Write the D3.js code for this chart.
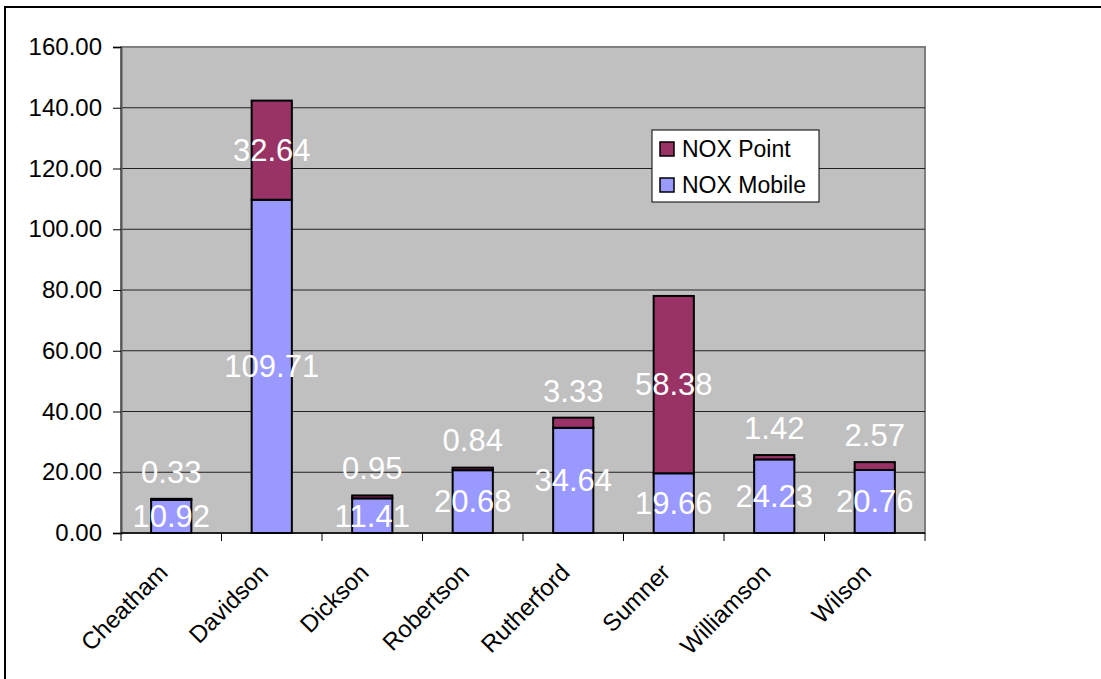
<!DOCTYPE html>
<html>
<head>
<meta charset="utf-8">
<script src="https://cdn.jsdelivr.net/npm/d3@7"></script>
<style>
  body { margin: 0; background: #fff; }
  svg { display: block; font-family: Arial, "Liberation Sans", sans-serif; }
</style>
</head>
<body>
<div class="canva"></div>
<script>
// data
const counties = ['Cheatham', 'Davidson', 'Dickson', 'Robertson', 'Rutherford', 'Sumner', 'Williamson', 'Wilson'];
const noxMobile = [10.92, 109.71, 11.41, 20.68, 34.64, 19.66, 24.23, 20.76];
const noxPoint = [0.33, 32.64, 0.95, 0.84, 3.33, 58.38, 1.42, 2.57];
const yTicks = [0, 20, 40, 60, 80, 100, 120, 140, 160];
const seriesNames = ['NOX Point', 'NOX Mobile'];
const seriesColors = ['#993366', '#9999ff'];

const W = 1101, H = 679;
const plot = { left: 121, top: 47, right: 925, bottom: 533 };

const svg = d3.select('.canva').append('svg')
  .attr('width', W)
  .attr('height', H);

// outer chart border (runs off the right / bottom of the picture)
svg.append('rect')
  .attr('x', 5).attr('y', 7)
  .attr('width', 1300).attr('height', 900)
  .attr('fill', '#fff')
  .attr('stroke', '#000')
  .attr('stroke-width', 2);

const x = d3.scaleBand()
  .domain(counties)
  .range([plot.left, plot.right])
  .padding(0);

const y = d3.scaleLinear()
  .domain([0, 160])
  .range([plot.bottom, plot.top]);

const barW = x.bandwidth() / 2.5;

// plot area
svg.append('rect')
  .attr('x', plot.left).attr('y', plot.top)
  .attr('width', plot.right - plot.left)
  .attr('height', plot.bottom - plot.top)
  .attr('fill', '#c0c0c0')
  .attr('stroke', '#808080')
  .attr('stroke-width', 2);

// gridlines
svg.append('g')
  .selectAll('line')
  .data(yTicks.slice(1, -1))
  .join('line')
  .attr('x1', plot.left).attr('x2', plot.right)
  .attr('y1', d => y(d)).attr('y2', d => y(d))
  .attr('stroke', '#222')
  .attr('stroke-width', 1);

// y axis
const yAxis = svg.append('g')
  .attr('transform', `translate(${plot.left},0)`)
  .call(d3.axisLeft(y).tickValues(yTicks).tickFormat(d3.format('.2f')).tickSize(8).tickPadding(11));
yAxis.select('.domain').attr('stroke', '#555').attr('stroke-width', 2);
yAxis.selectAll('.tick line').attr('stroke', '#000');
yAxis.selectAll('text')
  .attr('font-size', 24)
  .attr('fill', '#000')
  .attr('font-family', 'Arial, "Liberation Sans", sans-serif');

// bars
const stacked = counties.map((c, i) => ({ c, mob: noxMobile[i], pt: noxPoint[i] }));

const bars = svg.append('g');
bars.selectAll('rect.mob')
  .data(stacked)
  .join('rect')
  .attr('class', 'mob')
  .attr('x', d => x(d.c) + (x.bandwidth() - barW) / 2)
  .attr('width', barW)
  .attr('y', d => y(d.mob))
  .attr('height', d => y(0) - y(d.mob))
  .attr('fill', seriesColors[1])
  .attr('stroke', '#000')
  .attr('stroke-width', 2);

bars.selectAll('rect.pt')
  .data(stacked)
  .join('rect')
  .attr('class', 'pt')
  .attr('x', d => x(d.c) + (x.bandwidth() - barW) / 2)
  .attr('width', barW)
  .attr('y', d => y(d.mob + d.pt))
  .attr('height', d => y(d.mob) - y(d.mob + d.pt))
  .attr('fill', seriesColors[0])
  .attr('stroke', '#000')
  .attr('stroke-width', 2);

// x axis line + ticks at category boundaries
svg.append('line')
  .attr('x1', plot.left).attr('x2', plot.right)
  .attr('y1', y(0)).attr('y2', y(0))
  .attr('stroke', '#000').attr('stroke-width', 1.5);

svg.append('g')
  .selectAll('line')
  .data(counties.map(c => x(c)).concat([plot.right]))
  .join('line')
  .attr('x1', d => d).attr('x2', d => d)
  .attr('y1', y(0)).attr('y2', y(0) + 8)
  .attr('stroke', '#000');

// category labels, rotated
svg.append('g')
  .selectAll('text')
  .data(counties)
  .join('text')
  .attr('transform', d => `translate(${x(d) + x.bandwidth() / 2 - 2},${y(0) + 41}) rotate(-45)`)
  .attr('text-anchor', 'end')
  .attr('font-size', 24)
  .attr('fill', '#000')
  .text(d => d);

// data labels
const labels = svg.append('g')
  .attr('fill', '#fff')
  .attr('font-size', 31)
  .attr('text-anchor', 'middle');

labels.selectAll('text.mob')
  .data(stacked)
  .join('text')
  .attr('class', 'mob')
  .attr('x', d => x(d.c) + x.bandwidth() / 2)
  .attr('y', d => (y(0) + y(d.mob)) / 2)
  .attr('dy', '0.35em')
  .text(d => d.mob.toFixed(2));

labels.selectAll('text.pt')
  .data(stacked)
  .join('text')
  .attr('class', 'pt')
  .attr('x', d => x(d.c) + x.bandwidth() / 2)
  .attr('y', d => {
    const top = y(d.mob + d.pt), bot = y(d.mob);
    // small segments: label sits above the bar
    return (bot - top) < 30 ? top - 27 : (top + bot) / 2;
  })
  .attr('dy', '0.35em')
  .text(d => d.pt.toFixed(2));

// legend
const legend = svg.append('g').attr('transform', 'translate(652,130)');
legend.append('rect')
  .attr('width', 167).attr('height', 72)
  .attr('fill', '#fff')
  .attr('stroke', '#000');
const items = legend.selectAll('g')
  .data(seriesNames)
  .join('g')
  .attr('transform', (d, i) => `translate(8,${12 + i * 36})`);
items.append('rect')
  .attr('width', 14).attr('height', 14)
  .attr('fill', (d, i) => seriesColors[i])
  .attr('stroke', '#000')
  .attr('stroke-width', 1.5);
items.append('text')
  .attr('x', 22).attr('y', 7)
  .attr('dy', '0.35em')
  .attr('font-size', 23)
  .attr('fill', '#000')
  .text(d => d);
</script>
</body>
</html>
